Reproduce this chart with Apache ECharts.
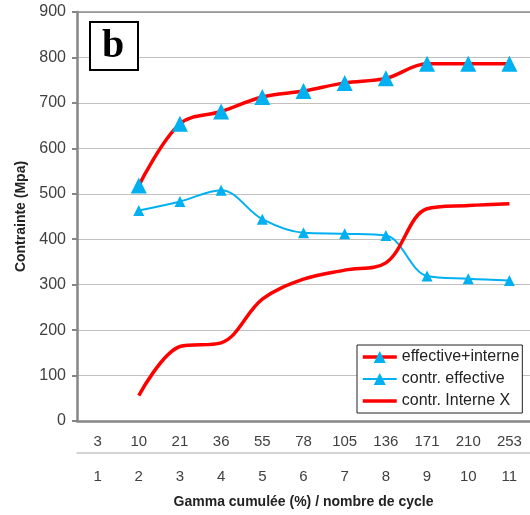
<!DOCTYPE html>
<html>
<head>
<meta charset="utf-8">
<script src="https://cdn.jsdelivr.net/npm/echarts@6/dist/echarts.min.js"></script>
<style>html,body{margin:0;padding:0;background:#fff}#c{width:530px;height:515px}</style>
</head>
<body>
<div id="c"></div>
<script>
var gammaLabels = ['3','10','21','36','55','78','105','136','171','210','253'];
var cycleLabels = ['1','2','3','4','5','6','7','8','9','10','11'];
var effInterne = [null, 518, 654, 681, 713, 726, 744, 754, 786, 786, 786];
var contrEffective = [null, 463, 483, 508, 444, 414, 412, 408, 319, 313, 309];
var contrInterneX = [null, 56, 164, 172, 268, 312, 332, 348, 467, 474, 478];
var yTicks = {min: 0, max: 900, interval: 100};

var FONT = 'Liberation Sans';
var chart = echarts.init(document.getElementById('c'));
chart.setOption({
  animation: false,
  backgroundColor: '#fff',
  grid: {left: 77, right: 0, top: 12, bottom: 94, outerBoundsMode: 'none', containLabel: false},
  legend: {
    orient: 'vertical',
    left: 357, top: 345,
    padding: [4, 3, 4, 4],
    itemGap: 6,
    itemWidth: 34, itemHeight: 15,
    borderColor: '#222', borderWidth: 1, backgroundColor: '#fff',
    textStyle: {fontFamily: FONT, fontSize: 16, color: '#222'},
    data: [
      {name: 'effective+interne', lineStyle: {width: 3.5, color: '#ff0000'}},
      {name: 'contr. effective', lineStyle: {width: 2, color: '#00b0f0'}},
      {name: 'contr. Interne X', icon: 'path://M0,0 L34,0 L34,3.5 L0,3.5 Z', itemStyle: {color: '#ff0000'}}
    ]
  },
  xAxis: [
    {
      type: 'category', data: gammaLabels, position: 'bottom',
      axisLine: {lineStyle: {color: '#868686', width: 2.5}},
      axisTick: {alignWithLabel: true, length: 4, lineStyle: {color: '#868686', width: 2}},
      axisLabel: {fontFamily: FONT, fontSize: 15, color: '#404040', margin: 13},
      splitLine: {show: false}
    },
    {
      type: 'category', data: cycleLabels, position: 'bottom', offset: 32,
      axisLine: {lineStyle: {color: '#c8c8c8', width: 1.5}},
      axisTick: {alignWithLabel: true, length: 4, lineStyle: {color: '#c8c8c8'}},
      axisLabel: {fontFamily: FONT, fontSize: 15, color: '#404040', margin: 16},
      name: 'Gamma cumulée (%) / nombre de cycle',
      nameLocation: 'middle', nameGap: 42,
      nameTextStyle: {fontFamily: FONT, fontSize: 14, fontWeight: 'bold', color: '#222'}
    },
    {
      type: 'category', data: gammaLabels, position: 'top',
      axisLine: {lineStyle: {color: '#8c8c8c', width: 1.5}},
      axisTick: {show: false}, axisLabel: {show: false}
    }
  ],
  yAxis: {
    type: 'value', min: yTicks.min, max: yTicks.max, interval: yTicks.interval,
    axisLine: {show: true, lineStyle: {color: '#868686', width: 2.5}},
    axisTick: {show: true, length: 5, lineStyle: {color: '#868686', width: 2}},
    axisLabel: {fontFamily: FONT, fontSize: 16, color: '#404040', margin: 11},
    splitLine: {lineStyle: {color: '#c0c0c0', width: 1}},
    name: 'Contrainte (Mpa)', nameLocation: 'middle', nameGap: 47,
    nameTextStyle: {fontFamily: FONT, fontSize: 14, fontWeight: 'bold', color: '#222'}
  },
  series: [
    {
      name: 'effective+interne', type: 'line', data: effInterne, smooth: 0.35,
      lineStyle: {color: '#ff0000', width: 3.5},
      itemStyle: {color: '#00b0f0'},
      symbol: 'triangle', symbolSize: 16, z: 3
    },
    {
      name: 'contr. effective', type: 'line', data: contrEffective, smooth: 0.35,
      lineStyle: {color: '#00b0f0', width: 2},
      itemStyle: {color: '#00b0f0'},
      symbol: 'triangle', symbolSize: 11, z: 2
    },
    {
      name: 'contr. Interne X', type: 'line', data: contrInterneX, smooth: 0.35,
      lineStyle: {color: '#ff0000', width: 3.5},
      itemStyle: {color: '#ff0000'},
      symbol: 'none', showSymbol: false, z: 2
    }
  ],
  graphic: [
    {
      type: 'rect', left: 89, top: 21,
      shape: {width: 48, height: 48},
      style: {fill: '#fff', stroke: '#000', lineWidth: 2}, z: 10
    },
    {
      type: 'text', x: 113, y: 47,
      style: {text: 'b', font: 'bold 40px "Liberation Serif"', fill: '#000', align: 'center', verticalAlign: 'middle'}, z: 11
    }
  ]
});
</script>
</body>
</html>
